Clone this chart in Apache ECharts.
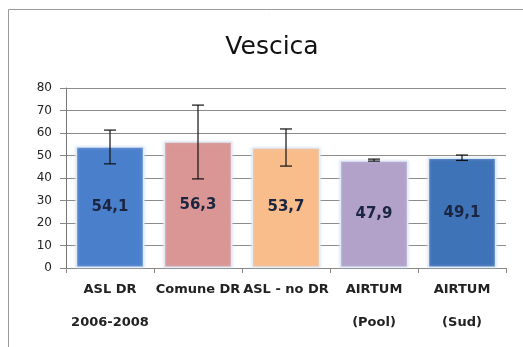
<!DOCTYPE html>
<html>
<head>
<meta charset="utf-8">
<script src="https://cdn.jsdelivr.net/npm/echarts@6/dist/echarts.min.js"></script>
<style>
  html, body { margin: 0; padding: 0; background: #fff; }
  #chart { width: 523px; height: 347px; }
</style>
</head>
<body>
<div id="chart"></div>
<script>
// Bladder cancer ("Vescica") rates with confidence intervals
const categories = ['ASL DR\n2006-2008', 'Comune DR', 'ASL - no DR', 'AIRTUM\n(Pool)', 'AIRTUM\n(Sud)'];
const values = [54.1, 56.3, 53.7, 47.9, 49.1];
const ciLow = [46.3, 39.6, 45.3, 47.5, 47.8];
const ciHigh = [61.3, 72.4, 61.8, 48.4, 50.2];
const barColors = ['#4a7fcc', '#d99694', '#f9bd8c', '#b2a1c9', '#3f73b8'];
const yTicks = [0, 10, 20, 30, 40, 50, 60, 70, 80];

const font = '"DejaVu Sans", "Noto Sans", sans-serif';

const chart = echarts.init(document.getElementById('chart'), null, { renderer: 'canvas' });

chart.setOption({
  animation: false,
  backgroundColor: '#fff',
  title: {
    text: 'Vescica',
    left: 267,
    textAlign: 'center',
    top: 30,
    textStyle: { fontFamily: font, fontSize: 25, fontWeight: 'normal', color: '#111' }
  },
  graphic: [{
    type: 'rect',
    shape: { x: 8.5, y: 9.5, width: 520, height: 340 },
    style: { fill: null, stroke: '#9a9a9a', lineWidth: 1 },
    silent: true
  }],
  grid: { left: 66, right: 17, top: 88, bottom: 79 },
  xAxis: {
    type: 'category',
    data: categories,
    axisLine: { show: true, lineStyle: { color: '#888' } },
    axisTick: { show: true, alignWithLabel: false, length: 5, lineStyle: { color: '#888' } },
    axisLabel: {
      interval: 0,
      margin: 5,
      fontFamily: font,
      fontSize: 13,
      fontWeight: 'bold',
      color: '#222',
      lineHeight: 33
    }
  },
  yAxis: {
    type: 'value',
    min: yTicks[0],
    max: yTicks[yTicks.length - 1],
    interval: 10,
    axisLine: { show: true, lineStyle: { color: '#777' } },
    axisTick: { show: true, length: 6, lineStyle: { color: '#888' } },
    axisLabel: { margin: 14, fontFamily: font, fontSize: 12, color: '#222' },
    splitLine: { show: true, lineStyle: { color: '#8c8c8c', width: 1 } }
  },
  series: [
    {
      type: 'bar',
      data: values.map((v, i) => ({ value: v, itemStyle: { color: barColors[i] } })),
      barCategoryGap: '22%',
      itemStyle: {
        borderColor: 'rgba(230,240,250,0.9)',
        borderWidth: 1.5,
        shadowColor: 'rgba(200,215,235,0.6)',
        shadowBlur: 3
      },
      label: {
        show: true,
        position: 'inside',
        formatter: p => String(p.value).replace('.', ','),
        fontFamily: font,
        fontSize: 15,
        fontWeight: 'bold',
        color: '#1b2540'
      },
      z: 2
    },
    {
      type: 'custom',
      data: categories.map((c, i) => [i, ciLow[i], ciHigh[i]]),
      renderItem: function (params, api) {
        const x = api.value(0);
        const lo = api.coord([x, api.value(1)]);
        const hi = api.coord([x, api.value(2)]);
        const cap = 6;
        const style = { stroke: '#111', lineWidth: 1.2 };
        return {
          type: 'group',
          children: [
            { type: 'line', shape: { x1: lo[0], y1: lo[1], x2: hi[0], y2: hi[1] }, style: style },
            { type: 'line', shape: { x1: lo[0] - cap, y1: lo[1], x2: lo[0] + cap, y2: lo[1] }, style: style },
            { type: 'line', shape: { x1: hi[0] - cap, y1: hi[1], x2: hi[0] + cap, y2: hi[1] }, style: style }
          ]
        };
      },
      z: 3
    }
  ]
});
</script>
</body>
</html>
